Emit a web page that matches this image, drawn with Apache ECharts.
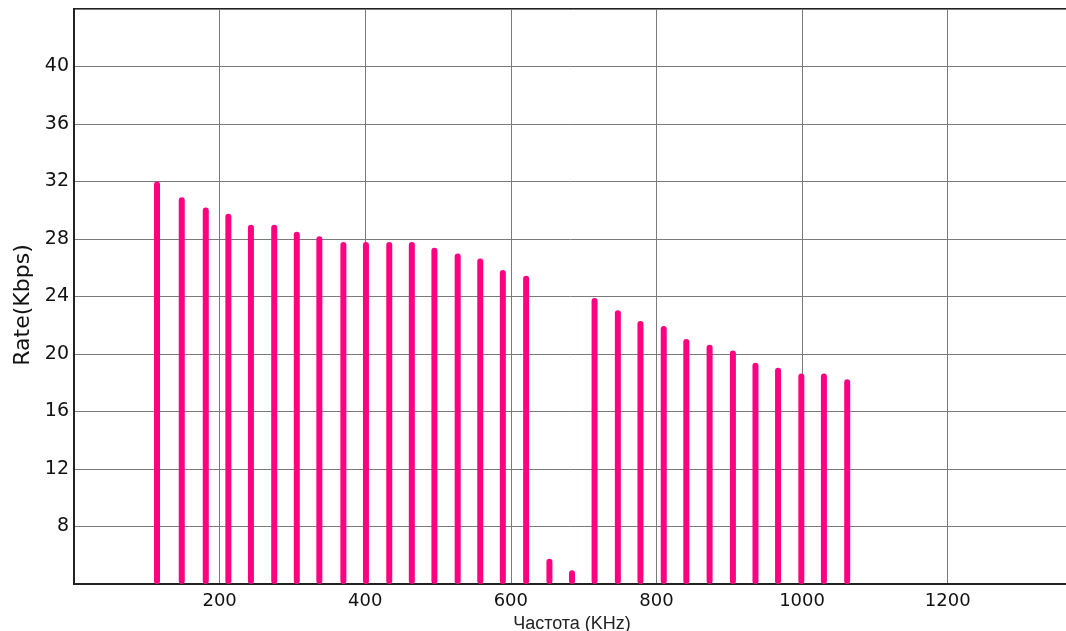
<!DOCTYPE html>
<html>
<head>
<meta charset="utf-8">
<script src="https://cdn.jsdelivr.net/npm/echarts@6/dist/echarts.min.js"></script>
<style>html,body{margin:0;padding:0;background:#fff}#c{width:1066px;height:631px}</style>
</head>
<body>
<div id="c"></div>
<script>
const frequencies = [114, 148, 181, 212, 243, 275, 306, 337, 370, 401, 433, 464, 495, 527, 558, 589, 621, 653, 684, 715, 747, 778, 810, 841, 873, 905, 936, 967, 999, 1030, 1062];
const rates = [32, 30.9, 30.2, 29.75, 29, 29, 28.5, 28.2, 27.8, 27.8, 27.8, 27.8, 27.4, 27, 26.65, 25.85, 25.45, 5.75, 4.95, 23.9, 23.05, 22.3, 21.95, 21.05, 20.65, 20.25, 19.4, 19.05, 18.65, 18.65, 18.25];
const xTicks = [200, 400, 600, 800, 1000, 1200];
const yTicks = [8, 12, 16, 20, 24, 28, 32, 36, 40];
const xTitle = 'Частота (KHz)';
const yTitle = 'Rate(Kbps)';

const chart = echarts.init(document.getElementById('c'));
chart.setOption({
  animation: false,
  backgroundColor: '#ffffff',
  grid: { left: 74, right: -4, top: 9, bottom: 47, outerBoundsMode: 'none', containLabel: false,
          show: true, borderColor: '#222', borderWidth: 2, backgroundColor: 'transparent' },
  xAxis: {
    type: 'value', min: 0, max: 1368, interval: 200,
    axisLine: { show: true, lineStyle: { color: '#222', width: 2 } },
    axisTick: { show: false },
    splitLine: { show: true, lineStyle: { color: '#7a7a7a', width: 1 } },
    axisLabel: {
      showMinLabel: false, showMaxLabel: false, margin: 8,
      fontFamily: 'DejaVu Sans', fontSize: 18, color: '#111',
      formatter: v => xTicks.includes(v) ? String(v) : ''
    },
    name: xTitle, nameLocation: 'middle', nameGap: 22,
    nameTextStyle: { fontFamily: 'Liberation Sans', fontSize: 18, color: '#222' }
  },
  yAxis: {
    type: 'value', min: 4, max: 44, interval: 4,
    axisLine: { show: true, lineStyle: { color: '#222', width: 2 } },
    axisTick: { show: false },
    splitLine: { show: true, lineStyle: { color: '#7a7a7a', width: 1 } },
    axisLabel: {
      showMinLabel: false, showMaxLabel: false, margin: 5,
      fontFamily: 'DejaVu Sans', fontSize: 19, color: '#111',
      formatter: v => yTicks.includes(v) ? String(v) : ''
    },
    name: yTitle, nameLocation: 'middle', nameGap: 38, nameRotate: 90,
    nameTextStyle: { fontFamily: 'DejaVu Sans', fontSize: 22, color: '#111', padding: [0, 0, 0, -17] }
  },
  series: [{
    type: 'bar',
    data: frequencies.map((f, i) => [f, rates[i]]),
    barWidth: 6,
    itemStyle: { color: '#FF0080', borderRadius: [3, 3, 3, 3] },
    clip: true
  }]
});
</script>
</body>
</html>
